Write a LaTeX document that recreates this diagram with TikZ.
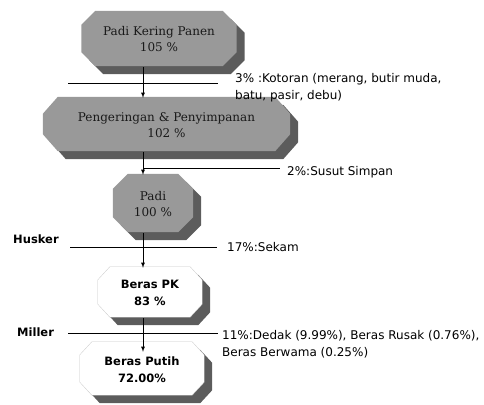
\documentclass[tikz,border=0pt]{standalone}
\usepackage{fontspec}
\setmainfont{DejaVu Sans}
\newfontfamily\serifbox{DejaVu Serif}
\usetikzlibrary{positioning, calc, backgrounds, arrows.meta}
\tikzset{>=latex}
\colorlet{facegray}{black!40}
\colorlet{shadegray}{black!64}

\tikzset{
  stage/.style={inner sep=0pt, align=center, text=black!90, font=\serifbox\fontsize{12}{16}\selectfont},
  product/.style={inner sep=0pt, align=center, font=\bfseries\fontsize{11.5}{17}\selectfont},
  loss/.style={inner sep=0pt, align=left, font=\fontsize{12}{17}\selectfont},
  machine/.style={inner sep=0pt, anchor=west, font=\bfseries\fontsize{11.5}{14}\selectfont},
  grayface/.style={fill=facegray},
  whiteface/.style={fill=white, draw=black!22, line width=.3pt},
  shade/.style={fill=shadegray},
  cut/.style={line width=.7pt},
  flow/.style={line width=.8pt},
}

\begin{document}
\begin{tikzpicture}[x=1pt, y=-1pt]
  \useasboundingbox (0,0) rectangle (484,404);
  \coordinate (ax) at (143,0);

  % Stages
  \node[stage, minimum width=155pt, minimum height=55pt] (pkp) at (159,39.5) {Padi Kering Panen\\105 \%};
  \node[stage, minimum width=247pt, minimum height=54pt] (pnp) at (166.5,125) {Pengeringan \& Penyimpanan\\102 \%};
  \node[stage, minimum width=80pt, minimum height=58pt] (padi) at (153,204) {Padi\\100 \%};
  \node[product, minimum width=104pt, minimum height=50pt] (bpk) at (150,293) {Beras PK\\83 \%};
  \node[product, minimum width=124pt, minimum height=53pt] (bpt) at (142,369.5) {Beras Putih\\72.00\%};

  % Faces and shades
  \begin{scope}[on background layer]
    \foreach \n/\cx/\cy/\sty in {pkp/14/14/grayface, pnp/15/17/grayface, padi/15/15/grayface, bpk/12/13/whiteface, bpt/12/13/whiteface}{
      \foreach \o/\s in {8/shade, 0/\sty}
        \path[\s] ($(\n.north west)+(\cx+\o,\o-1)$) -- ($(\n.north east)+(-\cx+\o,\o-1)$)
          -- ($(\n.north east)+(\o,\cy+\o-1)$) -- ($(\n.south east)+(\o,-\cy+\o-1)$)
          -- ($(\n.south east)+(-\cx+\o,\o-1)$) -- ($(\n.south west)+(\cx+\o,\o-1)$)
          -- ($(\n.south west)+(\o,-\cy+\o-1)$) -- ($(\n.north west)+(\o,\cy+\o-1)$) -- cycle;
    }
  \end{scope}

  % Losses
  \node[loss, anchor=north west] (kotoran) at (235,73) {3\% :Kotoran (merang, butir muda,\\batu, pasir, debu)};
  \node[loss, anchor=west] (susut) at (287,172) {2\%:Susut Simpan};
  \node[loss, anchor=west] (sekam) at (227,247) {17\%:Sekam};
  \node[loss, anchor=north west] (dedak) at (222,330) {11\%:Dedak (9.99\%), Beras Rusak (0.76\%),\\Beras Berwama (0.25\%)};
  \node[machine] (husker) at (13,239) {Husker};
  \node[machine] (miller) at (17,332) {Miller};

  \coordinate (c1) at (68,83);   \coordinate (c1e) at (218,83);
  \coordinate (c2) at (143,168); \coordinate (c2e) at (280,168);
  \coordinate (c3) at (70,247);  \coordinate (c3e) at (217,247);
  \coordinate (c4) at (68,333);  \coordinate (c4e) at (218,333);
  \foreach \a in {1,...,4}
    \draw[cut] (c\a) -- (c\a e);

  % Arrows
  \draw[->, flow] (pkp.south -| ax) -- (pnp.north -| ax);
  \draw[->, flow] (pnp.south -| ax) -- (padi.north -| ax);
  \draw[->, flow] (padi.south -| ax) -- (bpk.north -| ax);
  \draw[->, flow, shorten >=-9pt] (bpk.south -| ax) -- (bpt.north -| ax);
\end{tikzpicture}
\end{document}
